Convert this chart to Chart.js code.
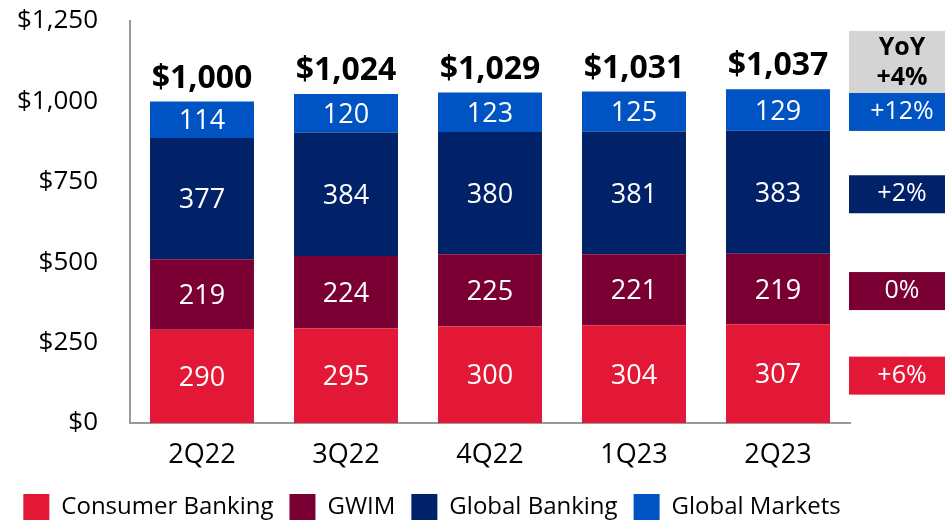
<!DOCTYPE html>
<html>
<head>
<meta charset="utf-8">
<script src="https://cdn.jsdelivr.net/npm/chart.js@4.4.0/dist/chart.umd.min.js"></script>
<style>
  html, body { margin: 0; padding: 0; background: #fff; }
  #wrap { width: 945px; height: 522px; }
</style>
</head>
<body>
<div id="wrap"><canvas id="chart" width="945" height="522"></canvas></div>
<script>
// values in $B
const quarters = ["2Q22", "3Q22", "4Q22", "1Q23", "2Q23"];
const consumerBanking = [290, 295, 300, 304, 307];
const gwim = [219, 224, 225, 221, 219];
const globalBanking = [377, 384, 380, 381, 383];
const globalMarkets = [114, 120, 123, 125, 129];
const totals = [1000, 1024, 1029, 1031, 1037];
// YoY change per segment, bottom to top
const yoyChange = ["+6%", "0%", "+2%", "+12%"];
const yoyTotal = "+4%";
const yTicks = [0, 250, 500, 750, 1000, 1250];

const FONT = "'Open Sans', 'Noto Sans', sans-serif";
const colors = ["#E31837", "#7A0033", "#012169", "#0053C2"];

const money = v => "$" + v.toLocaleString("en-US");

// segment values inside the bars + totals on top
const barLabels = {
  id: "barLabels",
  afterLayout(chart) {
    // nudge the legend a bit right/down to sit like the slide
    chart.legend.left += 7;
    chart.legend.right += 7;
    chart.legend.top += 2;
    chart.legend.bottom += 2;
  },
  afterDatasetsDraw(chart) {
    const ctx = chart.ctx;
    ctx.save();
    ctx.textAlign = "center";
    ctx.textBaseline = "middle";
    ctx.fillStyle = "#fff";
    ctx.font = "27px " + FONT;
    chart.data.datasets.forEach((ds, i) => {
      chart.getDatasetMeta(i).data.forEach((bar, j) => {
        ctx.fillText(ds.data[j], bar.x, (bar.y + bar.base) / 2 + 2);
      });
    });
    const topBars = chart.getDatasetMeta(chart.data.datasets.length - 1).data;
    ctx.fillStyle = "#000";
    ctx.font = "bold 32px " + FONT;
    topBars.forEach((bar, j) => ctx.fillText(money(totals[j]), bar.x, bar.y - 23));
    ctx.restore();
  }
};

// YoY boxes on the right, lined up with the last bar's segments
const yoyBoxes = {
  id: "yoyBoxes",
  afterDatasetsDraw(chart) {
    const { ctx, chartArea, width } = chart;
    const last = quarters.length - 1;
    const left = chartArea.right - 1;
    const cx = chartArea.right + 52;
    const h = 38;
    let topEdge = 0;
    ctx.save();
    ctx.textAlign = "center";
    ctx.textBaseline = "middle";
    chart.data.datasets.forEach((ds, i) => {
      const bar = chart.getDatasetMeta(i).data[last];
      const mid = (bar.y + bar.base) / 2 + 2;
      ctx.fillStyle = ds.backgroundColor;
      ctx.fillRect(left, mid - h / 2, width - left, h);
      ctx.fillStyle = "#fff";
      ctx.font = "25px " + FONT;
      ctx.fillText(yoyChange[i], cx, mid);
      topEdge = mid - h / 2;
    });
    ctx.fillStyle = "#D4D4D4";
    ctx.fillRect(left, topEdge - 62, width - left, 62);
    ctx.fillStyle = "#000";
    ctx.font = "bold 25px " + FONT;
    ctx.fillText("YoY", cx, topEdge - 45);
    ctx.fillText(yoyTotal, cx, topEdge - 15);
    ctx.restore();
  }
};

new Chart(document.getElementById("chart"), {
  type: "bar",
  data: {
    labels: quarters,
    datasets: [
      { label: "Consumer Banking", data: consumerBanking, backgroundColor: colors[0] },
      { label: "GWIM", data: gwim, backgroundColor: colors[1] },
      { label: "Global Banking", data: globalBanking, backgroundColor: colors[2] },
      { label: "Global Markets", data: globalMarkets, backgroundColor: colors[3] },
    ],
  },
  options: {
    responsive: false,
    animation: false,
    devicePixelRatio: 1,
    layout: { padding: { top: 21, right: 95, bottom: -6, left: 0 } },
    datasets: {
      bar: { categoryPercentage: 1, barPercentage: 0.722, borderWidth: 0 },
    },
    scales: {
      x: {
        stacked: true,
        grid: { display: false, drawTicks: false },
        border: { color: "#999", width: 2 },
        ticks: { color: "#000", font: { family: FONT, size: 27 }, padding: 16 },
        afterFit(scale) { scale.height = 53; },
      },
      y: {
        stacked: true,
        min: 0,
        max: 1250,
        grid: { display: false, drawTicks: false },
        border: { color: "#999", width: 2 },
        afterBuildTicks(scale) { scale.ticks = yTicks.map(v => ({ value: v })); },
        ticks: {
          color: "#000",
          font: { family: FONT, size: 26 },
          padding: 32,
          callback: v => money(v),
        },
        afterFit(scale) {
          scale.width = 130;
          // tick padding shouldn't push the plot down
          scale.paddingTop = 0;
          scale.paddingBottom = 0;
        },
      },
    },
    plugins: {
      legend: {
        position: "bottom",
        labels: {
          boxWidth: 26,
          boxHeight: 26,
          padding: 16,
          color: "#000",
          font: { family: FONT, size: 24 },
        },
      },
      tooltip: { enabled: false },
    },
  },
  plugins: [barLabels, yoyBoxes],
});
</script>
</body>
</html>
